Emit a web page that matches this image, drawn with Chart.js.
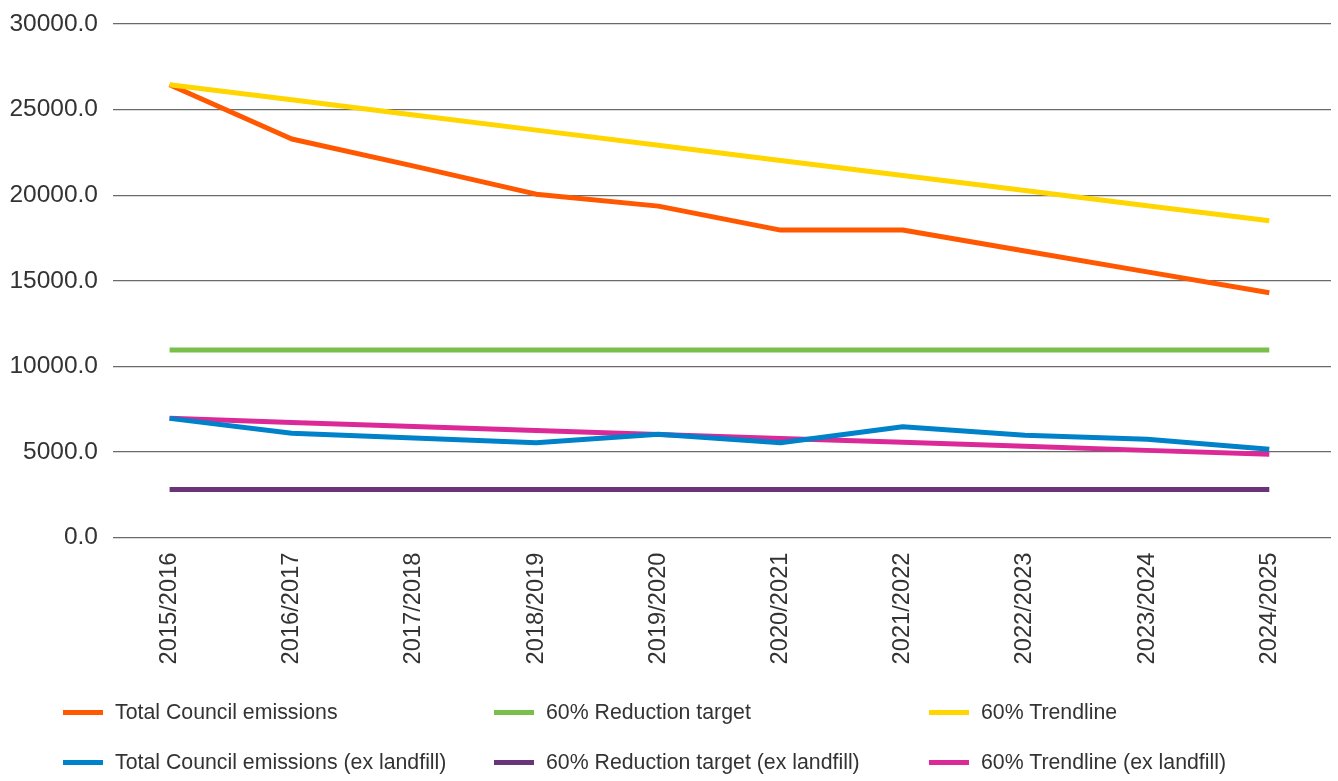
<!DOCTYPE html>
<html>
<head>
<meta charset="utf-8">
<title>Council emissions</title>
<script src="https://cdn.jsdelivr.net/npm/chart.js@4.4.1/dist/chart.umd.min.js"></script>
<style>
  html, body { margin: 0; padding: 0; background: #ffffff; }
  #wrap { position: relative; width: 1338px; height: 781px; }
  #legend {
    position: absolute; left: 0; top: 0; width: 100%; height: 100%;
    pointer-events: none;
    font-family: "Liberation Sans", Arial, sans-serif; font-size: 21.3px; color: #333333;
  }
  .item { position: absolute; height: 26px; display: flex; align-items: center; white-space: nowrap; }
  .swatch { width: 40px; height: 5px; margin-right: 12px; }
</style>
</head>
<body>
<div id="wrap">
  <canvas id="c" width="1338" height="781"></canvas>
  <div id="legend"></div>
</div>
<script>
// Financial years on the horizontal axis
const categories = ['2015/2016', '2016/2017', '2017/2018', '2018/2019', '2019/2020',
                    '2020/2021', '2021/2022', '2022/2023', '2023/2024', '2024/2025'];

// Emissions series (tCO2e)
const totalEmissions        = [26450, 23280, 21700, 20060, 19360, 17960, 17960, 16740, 15520, 14300];
const reductionTarget       = [10950, 10950, 10950, 10950, 10950, 10950, 10950, 10950, 10950, 10950];
const trendline             = [26450, 25570, 24680, 23800, 22920, 22030, 21150, 20270, 19380, 18500];
const totalExLandfill       = [6960, 6090, 5820, 5540, 6030, 5540, 6470, 5970, 5740, 5150];
const reductionTargetExLf   = [2800, 2800, 2800, 2800, 2800, 2800, 2800, 2800, 2800, 2800];
const trendlineExLandfill   = [6960, 6720, 6490, 6250, 6020, 5790, 5560, 5330, 5090, 4860];

// Value axis ticks
const yTicks = [0, 5000, 10000, 15000, 20000, 25000, 30000];

const seriesNames = ['Total Council emissions', '60% Reduction target', '60% Trendline',
                     'Total Council emissions (ex landfill)', '60% Reduction target (ex landfill)',
                     '60% Trendline (ex landfill)'];
const seriesValues = [totalEmissions, reductionTarget, trendline,
                      totalExLandfill, reductionTargetExLf, trendlineExLandfill];
const seriesColors = ['#ff5800', '#7abf4a', '#ffd600', '#0082ca', '#6a3479', '#db2a98'];
const drawOrder    = [2, 5, 1, 3, 6, 4];   // lower numbers are painted on top

const datasets = seriesNames.map((name, i) => ({
  label: name,
  data: seriesValues[i].map((v, k) => ({ x: k, y: v })),
  borderColor: seriesColors[i],
  backgroundColor: seriesColors[i],
  borderWidth: 5,
  pointRadius: 0,
  pointHoverRadius: 0,
  tension: 0,
  fill: false,
  borderJoinStyle: 'round',
  order: drawOrder[i]
}));

const family = '"Liberation Sans", Arial, sans-serif';

const chart = new Chart(document.getElementById('c'), {
  type: 'line',
  data: { datasets },
  options: {
    responsive: false,
    animation: false,
    events: [],
    layout: { padding: { top: 24, right: 7, bottom: 0, left: 0 } },
    plugins: { legend: { display: false }, tooltip: { enabled: false } },
    scales: {
      x: {
        type: 'linear',
        min: -0.463,
        max: 9.505,
        grid: { display: false, drawTicks: false },
        border: { display: false },
        afterFit: (scale) => {
          scale.height = 243.5;
          scale.paddingLeft = 0;
          scale.paddingRight = 0;
        },
        afterBuildTicks: (scale) => {
          scale.ticks = categories.map((c, i) => ({ value: i }));
        },
        ticks: {
          autoSkip: false,
          minRotation: 90,
          maxRotation: 90,
          padding: 15,
          color: '#333333',
          font: { family, size: 23.7 },
          callback: (v) => categories[v] ?? ''
        }
      },
      y: {
        min: 0,
        max: 30000,
        afterFit: (scale) => {
          scale.width = 113;
          scale.paddingTop = 0;
          scale.paddingBottom = 0;
        },
        afterBuildTicks: (scale) => {
          scale.ticks = yTicks.map(v => ({ value: v }));
        },
        grid: { color: '#6a6a6a', lineWidth: 1.3, drawTicks: false },
        border: { display: false },
        ticks: {
          padding: 15,
          color: '#333333',
          font: { family, size: 24.5 },
          callback: (v) => Number(v).toFixed(1)
        }
      }
    }
  }
});

// Legend: three columns, two rows, built from the chart's datasets
const legendEl = document.getElementById('legend');
const colX = [63, 494, 929];
const rowY = [699, 749];
chart.data.datasets.forEach((ds, i) => {
  const item = document.createElement('div');
  item.className = 'item';
  item.style.left = colX[i % 3] + 'px';
  item.style.top = rowY[Math.floor(i / 3)] + 'px';
  const sw = document.createElement('span');
  sw.className = 'swatch';
  sw.style.background = ds.borderColor;
  const tx = document.createElement('span');
  tx.textContent = ds.label;
  item.appendChild(sw);
  item.appendChild(tx);
  legendEl.appendChild(item);
});
</script>
</body>
</html>
